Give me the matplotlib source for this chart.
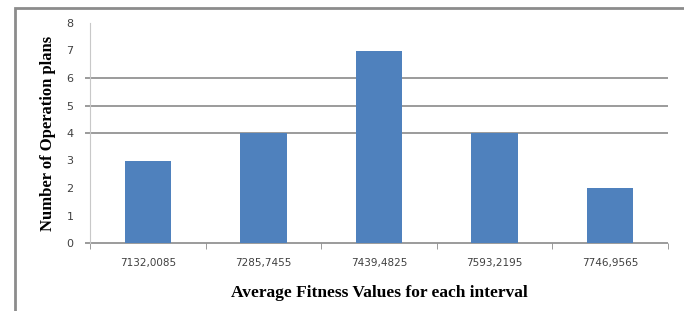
#Import libraries
import matplotlib.pyplot as plt
from matplotlib.patches import Rectangle

#Chart data
intervals = ["7132,0085", "7285,7455", "7439,4825", "7593,2195", "7746,9565"]
plan_counts = [3, 4, 7, 4, 2]
y_ticks = [0, 1, 2, 3, 4, 5, 6, 7, 8]
grid_levels = [4, 5, 6]

#Figure and axes placement
fig = plt.figure(figsize=(6.84, 3.11), dpi=100)
ax = fig.add_axes([90/684, 1-243/311, 578/684, 220/311])

#Outer grey frame (cropped at right and bottom)
fig.patches.append(Rectangle((15/684, -0.1), 1.0, (311-8)/311 + 0.1,
                             transform=fig.transFigure, fill=False,
                             edgecolor="#8c8c8c", linewidth=2))

#Bars
positions = list(range(len(intervals)))
ax.bar(positions, plan_counts, width=0.4, color="#4F81BD", zorder=3)

#Axes limits
ax.set_xlim(-0.5, len(intervals) - 0.5)
ax.set_ylim(0, 8)

#Gridlines only at a few levels, sticking out left of the axis
ax.hlines(grid_levels + [0], -0.54, len(intervals) - 0.5, color="#8a8a8a",
          linewidth=1.2, clip_on=False, zorder=1)

#Spines
ax.spines["top"].set_visible(False)
ax.spines["right"].set_visible(False)
ax.spines["left"].set_color("#c8c8c8")
ax.spines["bottom"].set_visible(False)

#Ticks
ax.set_yticks(y_ticks)
ax.set_yticklabels([str(t) for t in y_ticks])
ax.tick_params(axis="y", length=0, pad=12, labelsize=8, colors="#404040")
ax.set_xticks(positions)
ax.set_xticklabels(intervals)
ax.tick_params(axis="x", length=0, pad=11, labelsize=7.5, colors="#404040")
ax.set_xticks([p - 0.5 for p in positions] + [len(intervals) - 0.5], minor=True)
ax.tick_params(axis="x", which="minor", length=4, color="#8a8a8a", direction="out")

#Axis labels
ax.set_xlabel("Average Fitness Values for each interval", fontsize=12.5,
              fontweight="bold", family="Liberation Serif", labelpad=12)
ax.set_ylabel("Number of Operation plans", fontsize=12,
              fontweight="bold", family="Liberation Serif", labelpad=7)

#Save plot
plt.savefig("out.png", dpi=100)
